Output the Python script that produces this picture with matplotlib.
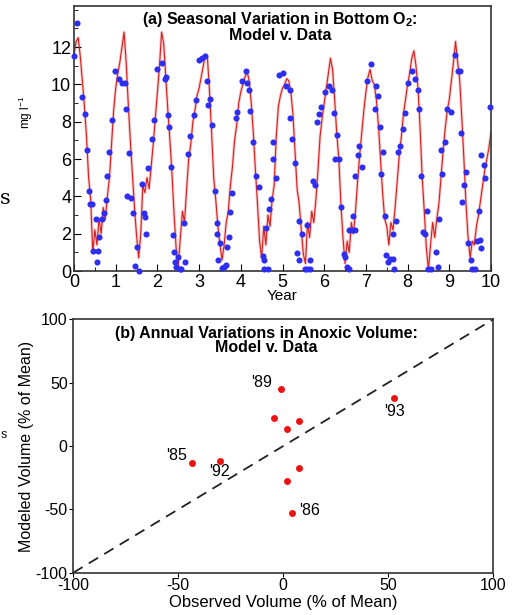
import numpy as np
import matplotlib
matplotlib.use('Agg')
import matplotlib.pyplot as plt
from matplotlib.ticker import MultipleLocator

# (a) oxigeno de fondo: modelo cada 0.05 anos (0 .. 10)
o2_modelo = [
    11.6, 12.3, 12.5, 11.5, 10.2, 8.8, 7.2, 5.0, 3.8, 1.0, 2.2, 1.4, 2.8, 2.0, 3.4, 2.8, 4.0, 5.0, 6.8, 8.6,
    9.8, 10.6, 11.2, 12.0, 12.8, 11.2, 9.0, 7.0, 5.2, 3.4, 1.9, 0.7, 2.0, 4.6, 4.2, 5.0, 4.4, 5.6, 6.8, 8.2,
    9.6, 11.0, 12.8, 12.2, 10.4, 8.6, 7.0, 5.2, 3.0, 1.2, 0.3, 1.8, 3.2, 2.6, 4.4, 6.0, 6.8, 8.0, 8.6, 9.4,
    9.8, 10.4, 11.0, 11.6, 11.4, 9.6, 7.4, 5.0, 3.8, 2.4, 1.4, 0.6, 1.4, 2.6, 3.2, 4.6, 5.6, 7.0, 7.8, 9.0,
    9.6, 10.0, 10.4, 10.7, 10.2, 9.0, 7.4, 5.4, 3.6, 1.6, 0.7, 2.4, 1.4, 3.0, 2.4, 3.8, 4.6, 7.2, 8.8, 9.4,
    9.8, 10.0, 10.3, 10.2, 9.6, 8.4, 6.4, 4.4, 3.6, 2.2, 0.9, 0.4, 2.6, 1.8, 3.2, 2.6, 3.8, 5.4, 7.2, 8.2,
    9.0, 9.8, 10.6, 11.4, 10.8, 9.2, 7.4, 6.0, 3.6, 1.8, 0.4, 1.6, 1.0, 2.6, 2.0, 3.2, 4.8, 6.2, 7.4, 8.6,
    9.6, 10.4, 10.8, 10.2, 10.0, 9.2, 7.8, 6.0, 4.2, 2.8, 2.4, 1.4, 2.6, 2.2, 3.4, 4.8, 6.2, 7.2, 8.4, 9.2,
    10.0, 10.6, 11.4, 11.8, 11.0, 9.8, 7.6, 5.0, 3.2, 1.2, 0.1, 1.4, 2.6, 1.8, 2.8, 3.6, 5.0, 6.4, 7.6, 8.6,
    9.2, 10.2, 11.2, 12.3, 11.2, 10.2, 8.2, 6.0, 3.6, 1.8, 0.7, 1.6, 1.4, 2.4, 3.0, 3.8, 4.6, 5.4, 6.0, 6.6,
    7.4,
]
t_modelo = np.linspace(0, 10, len(o2_modelo))

# (a) datos observados
anos_datos = [
    0.0, 0.08, 0.2, 0.26, 0.3, 0.35, 0.38, 0.43, 0.45, 0.52, 0.55, 0.58, 0.6, 0.68, 0.72, 0.76, 0.8, 0.85, 0.92, 0.98,
    1.07, 1.16, 1.23, 1.24, 1.33, 1.28, 1.37, 1.41, 1.51, 1.46, 1.56, 1.62, 1.67, 1.7, 1.73, 1.77, 1.87, 1.91, 1.99,
    2.12, 2.19, 2.21, 2.25, 2.28, 2.32, 2.37, 2.40, 2.41, 2.45, 2.5, 2.53, 2.57, 2.63, 2.65, 2.73, 2.78, 2.87, 2.93,
    3.0, 3.08, 3.14, 3.2, 3.22, 3.27, 3.32, 3.37, 3.42, 3.44, 3.46, 3.5, 3.55, 3.6, 3.64, 3.67, 3.72, 3.75, 3.78, 3.88, 3.9, 4.03,
    4.12, 4.16, 4.2, 4.22, 4.3, 4.36, 4.44, 4.52, 4.56, 4.56, 4.64, 4.6, 4.68, 4.72, 4.76, 4.77, 4.84, 4.92, 5.0,
    5.09, 5.17, 5.19, 5.23, 5.3, 5.39, 5.47, 5.35, 5.39, 5.54, 5.59, 5.65, 5.67, 5.59, 5.74, 5.79, 5.83, 5.87, 5.93,
    6.01, 6.11, 6.19, 6.23, 6.31, 6.25, 6.35, 6.41, 6.47, 6.51, 6.55, 6.6, 6.59, 6.67, 6.68, 6.73, 6.75, 6.81, 6.84, 6.9,
    7.02, 7.12, 7.25, 7.21, 7.3, 7.33, 7.42, 7.37, 7.45, 7.48, 7.53, 7.58, 7.64, 7.68, 7.66, 7.72, 7.78, 7.82, 7.88, 7.94,
    8.0, 8.1, 8.18, 8.26, 8.27, 8.32, 8.46, 8.38, 8.42, 8.5, 8.56, 8.67, 8.72, 8.76, 8.8, 8.83, 8.89, 8.95,
    9.03, 9.13, 9.2, 9.25, 9.28, 9.36, 9.41, 9.31, 9.45, 9.51, 9.55, 9.61, 9.67, 9.7, 9.73, 9.75, 9.77, 9.83, 9.86, 9.97,
]
o2_datos = [
    11.5, 13.3, 9.3, 8.4, 6.5, 4.3, 3.6, 3.6, 1.1, 2.8, 0.5, 1.1, 1.8, 2.8, 3.1, 3.8, 5.1, 6.4, 8.1, 10.7,
    10.3, 10.05, 10.05, 8.7, 6.3, 4.0, 3.9, 3.1, 1.3, 0.27, 0.02, 4.65, 3.1, 2.9, 2.0, 5.5, 7.1, 8.1, 10.8,
    11.15, 10.3, 10.4, 8.35, 7.7, 5.6, 1.93, 1.0, 0.46, 0.23, 0.77, 0.1, 0.1, 2.55, 0.46, 6.27, 7.23, 8.35, 9.16,
    11.3, 11.4, 11.5, 10.2, 8.9, 9.2, 7.8, 4.3, 2.6, 2.0, 0.6, 1.5, 0.14, 0.23, 0.32, 1.3, 1.84, 3.18, 4.2, 8.2, 8.5, 10.2,
    10.7, 10.1, 9.7, 8.6, 6.9, 5.1, 4.5, 0.8, 0.6, 0.09, 0.09, 2.3, 3.3, 3.84, 6.0, 6.9, 5.0, 10.5, 10.6,
    9.9, 9.7, 8.2, 7.1, 5.8, 2.7, 2.0, 0.95, 0.6, 0.09, 0.09, 0.6, 0.09, 2.46, 4.8, 4.6, 8.0, 8.4, 8.8,
    9.6, 9.9, 9.7, 8.45, 7.3, 6.0, 6.0, 3.45, 0.9, 0.77, 0.23, 0.09, 2.2, 2.2, 2.95, 2.2, 5.1, 6.2, 6.7, 5.6,
    10.2, 11.1, 9.9, 8.7, 9.4, 7.7, 6.4, 5.2, 2.95, 0.86, 0.5, 0.63, 0.63, 0.09, 2.0, 2.7, 6.4, 6.7, 7.6, 8.45,
    10.1, 10.7, 10.3, 9.7, 8.7, 5.1, 3.2, 2.1, 2.0, 0.09, 0.09, 1.0, 0.23, 2.8, 6.5, 5.2, 6.9, 8.7,
    8.5, 11.6, 10.7, 10.7, 7.4, 4.6, 5.3, 3.7, 1.5, 0.6, 0.09, 0.09, 1.6, 3.2, 1.65, 1.25, 6.2, 5.7, 5.0, 8.8,
]

# (b) volumen anoxico anual (% de la media)
vol_observado = [-1.1, 52.9, -4.4, 7.6, 1.6, -43.7, -30.2, 7.6, 1.6, 4.0]
vol_modelado = [45.0, 38.2, 21.8, 20.0, 13.2, -13.7, -11.8, -17.6, -27.9, -53.2]
etiquetas = ["'89", "'93", "", "", "", "'85", "'92", "", "", "'86"]
desplaz = [(-14, 4.6), (0, -9.7), None, None, None, (-11, 6), (0, -7.5), None, None, (13, 2)]

plt.rcParams['font.family'] = ['Liberation Sans', 'DejaVu Sans']
plt.rcParams['mathtext.default'] = 'regular'
plt.rcParams['axes.unicode_minus'] = False

fig = plt.figure(figsize=(5.18, 6.15), dpi=100)

# ---- panel (a)
ax1 = fig.add_axes([0.1429, 0.5593, 0.805, 0.4309])
# halo rosado + linea roja fina, como en el original
ax1.plot(t_modelo, o2_modelo, color='#f3a8a8', lw=2.2, alpha=0.6, zorder=1)
ax1.plot(t_modelo, o2_modelo, color='#d42020', lw=0.8, zorder=2)
ax1.plot(anos_datos, o2_datos, 'o', ms=4.4, color='#2e2ef2', mec='none', clip_on=False, zorder=3)
ax1.set_xlim(0, 10)
ax1.set_ylim(0, 14.2)
ax1.set_xticks(range(0, 11))
ax1.set_yticks(range(0, 13, 2))
ax1.xaxis.set_minor_locator(MultipleLocator(0.5))
ax1.yaxis.set_minor_locator(MultipleLocator(1))
ax1.tick_params(which='both', direction='in', top=False, right=False, labelsize=13, pad=2)
ax1.tick_params(which='major', length=5)
ax1.tick_params(which='minor', length=3)
for s in ax1.spines.values():
    s.set_linewidth(1.2)
    s.set_color('#333333')
ax1.set_xlabel('Year', fontsize=11, labelpad=-1)
ax1.set_ylabel('mg l$^{-1}$', fontsize=8.5)
ax1.yaxis.set_label_coords(-0.094, 0.6)
ax1.text(0.494, 0.985, '(a) Seasonal Variation in Bottom O$_2$:\nModel v. Data',
         transform=ax1.transAxes, ha='center', va='top', fontsize=11.5, fontweight='bold',
         linespacing=0.95)

# ---- panel (b)
ax2 = fig.add_axes([0.1415, 0.0688, 0.8108, 0.412])
ax2.plot([-100, 100], [-100, 100], color='#222222', lw=1.3, ls=(0, (6, 4)))
ax2.plot(vol_observado, vol_modelado, 'o', ms=5, color='#ee1111', mec='none')
for xo, ym, et, d in zip(vol_observado, vol_modelado, etiquetas, desplaz):
    if et:
        ax2.annotate(et, (xo, ym), xytext=d, textcoords='offset points',
                     ha='center', va='center', fontsize=11.5)
ax2.set_xlim(-100, 100)
ax2.set_ylim(-100, 100)
ax2.set_xticks([-100, -50, 0, 50, 100])
ax2.set_yticks([-100, -50, 0, 50, 100])
ax2.tick_params(direction='out', length=3, labelsize=11.5, pad=1)
for s in ax2.spines.values():
    s.set_linewidth(1.2)
    s.set_color('#333333')
ax2.set_xlabel('Observed Volume (% of Mean)', fontsize=12, labelpad=1)
ax2.set_ylabel('Modeled Volume (% of Mean)', fontsize=11.5, labelpad=1)
ax2.text(0.46, 0.975, '(b) Annual Variations in Anoxic Volume:\nModel v. Data',
         transform=ax2.transAxes, ha='center', va='top', fontsize=11.5, fontweight='bold',
         linespacing=0.95)

# restos de letras cortadas en el borde izquierdo
fig.text(0.0, 1 - 198 / 615, 's', ha='left', va='center', fontsize=15,
         family='DejaVu Serif')
fig.text(0.0, 1 - 434 / 615, 's', ha='left', va='center', fontsize=9,
         family='DejaVu Serif')

fig.savefig('out.png', dpi=100)
